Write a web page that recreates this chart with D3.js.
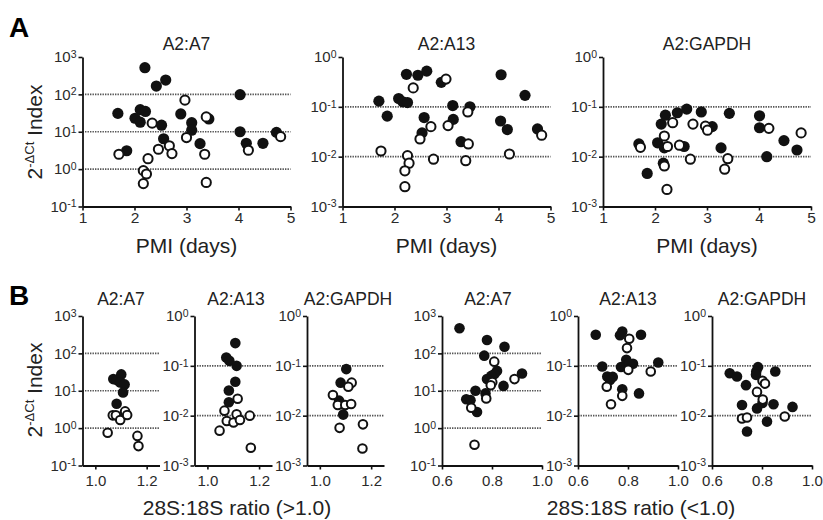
<!DOCTYPE html>
<html><head><meta charset="utf-8">
<script src="https://cdn.jsdelivr.net/npm/d3@7"></script>
<style>
body{margin:0;background:#fff}
svg{display:block}
text{font-family:"Liberation Sans",Arial,Helvetica,sans-serif}
</style>
</head><body>
<svg id="c" width="823" height="520"></svg>
<script>
// ---------- data ----------
const pmiTicks = [1, 2, 3, 4, 5];
const ratioHighTicks = [1.0, 1.2];
const ratioLowTicks = [0.6, 0.8, 1.0];
const expsA7 = [-1, 0, 1, 2, 3];
const expsOther = [-3, -2, -1, 0];
const panelTitles = ["A2:A7", "A2:A13", "A2:GAPDH"];
const pmiTitle = "PMI (days)";
const ratioHighTitle = "28S:18S ratio (>1.0)";
const ratioLowTitle = "28S:18S ratio (<1.0)";

// Panel A: PMI (days) vs 2^-dCt
const pmiA7Filled = [[2.20,518],[2.42,167],[2.60,242],[1.68,31],[2.11,39],[2.21,35],[2.01,23],[2.11,18],[2.52,15],[2.89,30],[3.10,17.5],[3.10,11],[2.56,6.5],[1.85,3.1],[3.26,4.8],[3.43,22],[4.03,98],[4.03,10],[4.15,4.9],[4.47,4.9],[4.73,9.6]];
const pmiA7Open = [[1.70,2.5],[2.26,1.9],[2.34,17],[2.46,3.4],[2.67,4.2],[2.72,2.6],[2.97,70],[3.00,7],[3.38,25],[3.35,2.5],[3.38,0.44],[2.17,0.91],[2.23,0.74],[2.17,0.41],[4.19,3.2],[4.81,7.4]];
const pmiA13Filled = [[2.23,0.45],[2.45,0.43],[2.62,0.52],[2.90,0.31],[1.70,0.13],[2.08,0.147],[2.16,0.126],[2.25,0.122],[1.86,0.065],[2.57,0.061],[2.53,0.030],[3.12,0.106],[3.13,0.056],[3.45,0.10],[3.28,0.020],[4.05,0.44],[4.04,0.052],[4.17,0.035],[4.51,0.17],[4.75,0.036]];
const pmiA13Open = [[2.36,0.24],[2.99,0.36],[1.74,0.013],[2.25,0.0105],[2.28,0.0074],[2.20,0.0052],[2.20,0.0025],[2.49,0.0226],[2.70,0.040],[2.75,0.0089],[3.03,0.042],[3.41,0.079],[3.42,0.018],[3.37,0.0083],[4.21,0.0113],[4.83,0.027]];
const pmiGapdhFilled = [[1.85,0.0046],[1.69,0.018],[2.05,0.019],[2.12,0.045],[2.20,0.068],[2.43,0.076],[2.61,0.090],[2.89,0.079],[2.16,0.0074],[2.18,0.015],[2.56,0.016],[3.10,0.040],[3.43,0.074],[3.27,0.015],[4.01,0.066],[4.01,0.038],[4.15,0.010],[4.48,0.021],[4.73,0.0136]];
const pmiGapdhOpen = [[1.72,0.0154],[2.34,0.048],[2.18,0.026],[2.24,0.016],[2.47,0.017],[2.18,0.0065],[2.23,0.0022],[2.73,0.045],[2.68,0.0089],[2.97,0.041],[3.01,0.034],[3.40,0.0091],[3.34,0.0056],[4.19,0.037],[4.81,0.030]];

// Panel B: 28S:18S ratio > 1.0
const hiA7Filled = [[1.070,20.5],[1.084,19.3],[1.101,27.4],[1.097,16.7],[1.114,14.8],[1.108,9],[1.083,4.5]];
const hiA7Open = [[1.068,2.2],[1.080,2.2],[1.097,1.65],[1.116,2.8],[1.124,2.25],[1.048,0.75],[1.164,0.62],[1.168,0.33]];
const hiA13Filled = [[1.108,0.286],[1.073,0.147],[1.085,0.126],[1.113,0.10],[1.108,0.048],[1.083,0.032],[1.083,0.0186]];
const hiA13Open = [[1.117,0.0218],[1.066,0.0126],[1.075,0.0078],[1.101,0.0073],[1.113,0.0107],[1.126,0.0082],[1.047,0.005],[1.164,0.010],[1.168,0.00227]];
const hiGapdhFilled = [[1.103,0.086],[1.081,0.046],[1.075,0.020],[1.086,0.017],[1.091,0.0105]];
const hiGapdhOpen = [[1.124,0.046],[1.111,0.038],[1.051,0.026],[1.070,0.0164],[1.099,0.0164],[1.122,0.0172],[1.077,0.0057],[1.168,0.0067],[1.166,0.0022]];

// Panel B: 28S:18S ratio < 1.0
const loA7Filled = [[0.670,470],[0.780,228],[0.850,150],[0.769,87],[0.920,29],[0.820,34],[0.810,28],[0.797,25],[0.780,20.5],[0.846,13.5],[0.774,8.5],[0.734,10],[0.697,5.9],[0.714,5.6],[0.740,2.7]];
const loA7Open = [[0.809,60],[0.801,17],[0.795,14],[0.777,6.2],[0.717,3.5],[0.890,20.5],[0.730,0.36]];
const loA13Filled = [[0.671,0.42],[0.777,0.49],[0.768,0.41],[0.852,0.42],[0.697,0.097],[0.793,0.132],[0.772,0.095],[0.820,0.11],[0.805,0.11],[0.921,0.117],[0.717,0.061],[0.739,0.060],[0.728,0.052],[0.777,0.034],[0.844,0.028]];
const loA13Open = [[0.805,0.35],[0.796,0.227],[0.801,0.083],[0.891,0.077],[0.715,0.038],[0.777,0.025],[0.732,0.017]];
const loGapdhFilled = [[0.671,0.071],[0.700,0.061],[0.736,0.041],[0.784,0.094],[0.777,0.077],[0.776,0.066],[0.853,0.077],[0.720,0.0164],[0.780,0.014],[0.802,0.018],[0.846,0.017],[0.922,0.015],[0.820,0.0076],[0.740,0.0048]];
const loGapdhOpen = [[0.802,0.050],[0.812,0.044],[0.780,0.030],[0.803,0.021],[0.720,0.0088],[0.740,0.0092],[0.891,0.0096]];

// ---------- drawing ----------
const svg = d3.select("#c");
const INK = "#111";

function drawPanel(cfg) {
  const g = svg.append("g");
  const x = d3.scaleLinear().domain(cfg.xDomain).range([cfg.x0, cfg.x1]);
  const y = d3.scaleLog().domain([10 ** cfg.exps[0], 10 ** cfg.exps[cfg.exps.length - 1]]).range([cfg.yB, cfg.yT]);

  // dotted reference lines at inner decades
  g.append("g").selectAll("line").data(cfg.exps.slice(1, -1)).join("line")
    .attr("x1", cfg.x0).attr("x2", cfg.x1)
    .attr("y1", d => y(10 ** d)).attr("y2", d => y(10 ** d))
    .attr("stroke", "#555").attr("stroke-width", 1.6).attr("stroke-dasharray", "1.4,1.1");

  // x axis
  const xa = g.append("g").attr("transform", `translate(0,${cfg.yB})`)
    .call(d3.axisBottom(x).tickValues(cfg.xTicks).tickFormat(cfg.xFmt)
      .tickSize(4).tickSizeOuter(0).tickPadding(cfg.xPad));
  xa.attr("color", INK).attr("font-size", cfg.tickFont).attr("font-family", null);
  xa.select(".domain").attr("stroke-width", 1.8);
  xa.selectAll(".tick line").attr("stroke-width", 1.6);
  xa.selectAll(".tick text").attr("fill", "#2a2a2a");

  // y axis
  const ya = g.append("g").attr("transform", `translate(${cfg.x0},0)`)
    .call(d3.axisLeft(y).tickValues(cfg.exps.map(e => 10 ** e)).tickFormat("")
      .tickSize(4).tickSizeOuter(0).tickPadding(2));
  ya.attr("color", INK).attr("font-size", 15).attr("font-family", null);
  ya.select(".domain").attr("stroke-width", 1.8);
  ya.selectAll(".tick line").attr("stroke-width", 1.6);
  ya.selectAll(".tick text").attr("fill", "#2a2a2a").each(function (d) {
    const t = d3.select(this);
    const e = Math.round(Math.log10(d));
    t.append("tspan").text("10");
    t.append("tspan").attr("dy", "-0.42em").attr("font-size", 10.5).text(String(e));
  });

  // markers: filled first, open on top
  g.append("g").selectAll("circle").data(cfg.filled).join("circle")
    .attr("cx", d => x(d[0])).attr("cy", d => y(d[1])).attr("r", cfg.r)
    .attr("fill", INK);
  g.append("g").selectAll("circle").data(cfg.open).join("circle")
    .attr("cx", d => x(d[0])).attr("cy", d => y(d[1])).attr("r", cfg.r - 1)
    .attr("fill", "#fff").attr("stroke", INK).attr("stroke-width", 2);

  // title
  g.append("text").attr("x", cfg.titleX ?? (cfg.x0 + cfg.x1) / 2).attr("y", cfg.titleY)
    .attr("text-anchor", "middle").attr("font-size", 17.5).attr("fill", "#222").text(cfg.title);
}

const fmtInt = d3.format("d");
const fmt1 = d3.format(".1f");

const A = { yT: 57, yB: 206.5, xDomain: [1, 5], xTicks: pmiTicks, xFmt: fmtInt, xPad: 1, tickFont: 15.5, r: 5.6, titleY: 50 };
drawPanel({ ...A, x0: 82.5, x1: 290.5, exps: expsA7, filled: pmiA7Filled, open: pmiA7Open, title: panelTitles[0] });
drawPanel({ ...A, x0: 342.5, x1: 550.5, exps: expsOther, filled: pmiA13Filled, open: pmiA13Open, title: panelTitles[1] });
drawPanel({ ...A, x0: 603, x1: 811, exps: expsOther, filled: pmiGapdhFilled, open: pmiGapdhOpen, title: panelTitles[2] });

const BH = { yT: 316, yB: 465.5, xDomain: [0.95, 1.25], xTicks: ratioHighTicks, xFmt: fmt1, xPad: 6, tickFont: 15, r: 5.3, titleY: 305 };
drawPanel({ ...BH, x0: 82.5, x1: 159.5, exps: expsA7, filled: hiA7Filled, open: hiA7Open, title: panelTitles[0] });
drawPanel({ ...BH, x0: 194.5, x1: 272, exps: expsOther, filled: hiA13Filled, open: hiA13Open, title: panelTitles[1], titleX: 236 });
drawPanel({ ...BH, x0: 307, x1: 384, exps: expsOther, filled: hiGapdhFilled, open: hiGapdhOpen, title: panelTitles[2], titleX: 348 });

const BL = { yT: 316, yB: 465.5, xDomain: [0.6, 1.0], xTicks: ratioLowTicks, xFmt: fmt1, xPad: 6, tickFont: 15, r: 5.3, titleY: 305 };
drawPanel({ ...BL, x0: 442, x1: 542, exps: expsA7, filled: loA7Filled, open: loA7Open, title: panelTitles[0], titleX: 488 });
drawPanel({ ...BL, x0: 578, x1: 678, exps: expsOther, filled: loA13Filled, open: loA13Open, title: panelTitles[1] });
drawPanel({ ...BL, x0: 712, x1: 812, exps: expsOther, filled: loGapdhFilled, open: loGapdhOpen, title: panelTitles[2] });

// x titles
[186.5, 446.5, 707].forEach(cx => {
  svg.append("text").attr("x", cx).attr("y", 253).attr("text-anchor", "middle")
    .attr("font-size", 21).attr("fill", "#222").text(pmiTitle);
});
svg.append("text").attr("x", 237).attr("y", 515).attr("text-anchor", "middle")
  .attr("font-size", 21).attr("fill", "#222").text(ratioHighTitle);
svg.append("text").attr("x", 641).attr("y", 515).attr("text-anchor", "middle")
  .attr("font-size", 21).attr("fill", "#222").text(ratioLowTitle);

// y titles
[132, 390].forEach(cy => {
  const t = svg.append("text").attr("transform", `translate(42,${cy}) rotate(-90)`)
    .attr("text-anchor", "middle").attr("font-size", 21).attr("fill", "#222");
  t.append("tspan").text("2");
  t.append("tspan").attr("dy", -8).attr("font-size", 13).text("-ΔCt");
  t.append("tspan").attr("dy", 8).text(" Index");
});

// panel letters
svg.append("text").attr("x", 9).attr("y", 37).attr("font-size", 28).attr("font-weight", "bold").attr("fill", "#000").text("A");
svg.append("text").attr("x", 9).attr("y", 305).attr("font-size", 28).attr("font-weight", "bold").attr("fill", "#000").text("B");
</script>
</body></html>
